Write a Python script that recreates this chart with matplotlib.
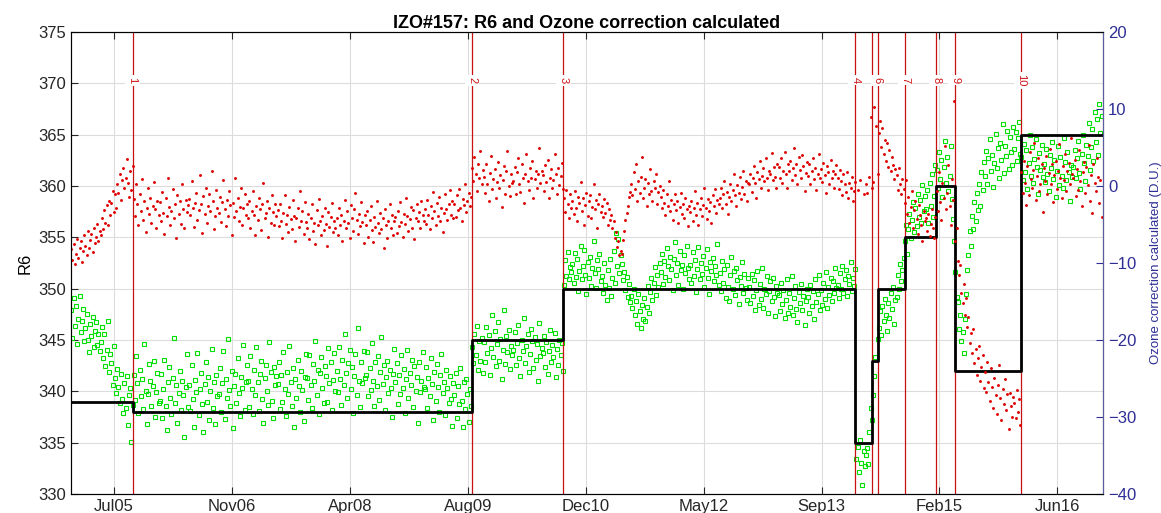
import numpy as np
import matplotlib
matplotlib.use('Agg')
import matplotlib.pyplot as plt
import matplotlib.dates as mdates

plt.rcParams['font.family'] = ['Liberation Sans', 'DejaVu Sans']

nan = np.nan

# observations are on a 5-day grid starting here
first_obs = '2005-01-06'
obs_step_days = 5

# R6 (left axis)
r6 = [
    347.9, 345.2, 349.1, 346.4, 348.3, 344.6, 347.0, 349.3, 345.8, 346.9, 348.0, 344.9, 346.2, 347.5, 345.0, 343.8, 346.6, 345.4, 347.2, 344.3, 345.9, 346.8, 344.5, 345.6, 343.9,
    344.8, 346.3, 343.2, 345.6, 342.5, 344.0, 346.9, 341.9, 343.6, 342.8, 340.6, 344.4, 341.3, 339.8, 342.2, 340.4, 338.9, 341.7, 339.3, 337.9, 340.8, 338.4, 341.5, 336.7, 339.6,
    340.3, 335.1, 338.7, 341.6, 339.2, 343.4, 340.8, 337.9, 342.1, 339.5, 341.2, 338.3, 344.6, 340.0, 336.8, 339.7, 342.7, 341.0, 338.6, 340.5, 343.0, 337.5, 339.9, 341.8, 338.9,
    339.1, 341.7, 337.4, 340.2, 343.1, 338.6, 336.2, 340.9, 342.4, 339.4, 337.8, 341.3, 345.2, 338.9, 340.6, 336.9, 339.8, 342.0, 338.2, 341.0, 339.6, 335.6, 340.4, 343.6, 338.5,
    340.6, 338.1, 342.6, 339.3, 336.5, 341.1, 339.9, 343.7, 337.7, 340.2, 341.8, 338.8, 336.0, 340.7, 342.9, 339.0, 341.4, 337.2, 340.0, 344.1, 338.4, 340.9, 336.8, 341.6, 339.5,
    339.7, 342.3, 338.0, 340.8, 343.9, 337.3, 341.2, 339.4, 345.1, 340.1, 338.6, 342.0, 336.4, 340.5, 341.7, 338.9, 343.2, 339.8, 337.6, 341.4, 340.3, 344.5, 338.2, 340.9, 342.6,
    341.0, 338.5, 343.4, 340.2, 337.8, 342.1, 339.6, 344.3, 340.9, 338.1, 341.7, 343.0, 339.3, 336.9, 341.3, 342.6, 340.0, 338.7, 344.8, 341.9, 339.1, 337.4, 342.4, 340.6, 341.5,
    340.7, 342.9, 338.3, 341.6, 339.0, 343.8, 340.2, 337.6, 341.9, 339.7, 344.4, 340.9, 338.6, 342.3, 336.5, 341.2, 339.4, 343.1, 340.5, 338.0, 342.0, 340.1, 337.1, 341.4, 343.6,
    341.3, 339.2, 343.5, 340.6, 338.4, 342.7, 341.0, 344.9, 339.6, 342.1, 337.8, 341.8, 343.3, 340.3, 338.9, 342.5, 341.5, 339.0, 344.2, 340.8, 342.9, 338.2, 341.1, 343.7, 340.0,
    342.0, 339.9, 344.3, 341.2, 338.7, 343.1, 340.6, 345.6, 341.8, 339.4, 342.8, 344.0, 340.2, 342.4, 337.9, 341.5, 343.6, 339.6, 346.2, 341.0, 338.5, 342.9, 340.8, 343.9, 341.3,
    341.6, 343.8, 339.5, 342.3, 340.1, 344.7, 341.0, 338.6, 342.9, 340.5, 343.4, 339.2, 341.9, 345.3, 340.7, 342.6, 338.2, 341.4, 343.0, 339.8, 342.1, 340.3, 337.5, 341.7, 344.1,
    340.9, 342.8, 338.8, 341.6, 339.7, 343.5, 340.3, 342.2, 337.9, 341.2, 344.0, 339.4, 341.8, 340.6, 343.1, 338.5, 342.5, 340.0, 341.4, 336.9, 342.9, 339.9, 341.0, 343.8, 340.4,
    340.2, 342.4, 338.4, 341.3, 339.5, 343.2, 340.7, 337.2, 341.9, 339.1, 342.7, 340.4, 338.0, 341.6, 343.6, 339.8, 340.9, 337.7, 342.1, 340.3, 338.9, 341.5, 339.3, 336.6, 340.8,
    339.6, 341.8, 337.4, 340.5, 338.8, 342.3, 339.1, 336.5, 340.9, 338.3, 341.2, 339.7, 337.0, 340.2, 338.6, 344.3, 342.8, 345.6, 343.5, 346.4, 342.1, 344.9, 343.0, 345.2, 341.8,
    344.8, 342.9, 346.3, 343.7, 345.5, 341.6, 344.2, 347.4, 343.3, 345.9, 342.5, 344.6, 346.8, 343.0, 345.1, 341.2, 344.0, 347.9, 342.7, 345.4, 343.8, 346.0, 342.2, 344.4, 343.5,
    344.0, 345.8, 342.6, 344.7, 346.5, 343.2, 341.5, 345.0, 343.9, 347.1, 342.8, 344.4, 345.6, 341.9, 343.6, 346.1, 344.9, 342.3, 345.3, 343.1, 344.6, 341.0, 346.7, 343.4, 344.2,
    343.7, 345.4, 342.4, 344.8, 341.7, 343.9, 346.0, 342.9, 344.5, 343.3, 345.7, 341.4, 344.1, 342.6, 345.0, 343.5, 344.7, 342.0, 350.4, 352.8, 351.2, 353.6, 350.9, 352.1, 351.6,
    352.4, 350.6, 353.5, 351.1, 352.9, 349.8, 351.7, 354.2, 350.9, 352.2, 353.8, 351.3, 349.5, 352.6, 351.0, 353.1, 350.3, 352.0, 354.6, 351.5, 350.1, 352.8, 351.9, 353.4, 350.7,
    351.2, 349.6, 352.5, 350.4, 348.9, 351.8, 350.1, 352.9, 349.3, 351.0, 353.7, 350.6, 355.4, 352.2, 354.8, 351.5, 353.3, 352.4, 350.8, 351.6, 349.9, 351.1, 349.2, 350.5, 348.7,
    349.3, 348.1, 350.0, 347.4, 348.8, 346.6, 349.5, 347.8, 346.2, 348.4, 347.0, 349.1, 346.9, 348.2, 350.3, 347.6, 349.7, 351.0, 348.9, 350.6, 352.1, 349.4, 351.3, 350.2, 352.5,
    351.6, 353.4, 350.5, 352.7, 351.1, 354.0, 352.2, 350.8, 353.1, 351.9, 349.9, 352.9, 354.5, 351.3, 352.5, 350.4, 353.7, 351.8, 352.3, 350.0, 353.3, 351.5, 354.2, 352.0, 350.9,
    352.3, 350.6, 353.6, 351.2, 352.8, 349.7, 351.9, 354.1, 350.9, 352.5, 351.4, 353.2, 350.2, 352.0, 353.9, 351.0, 349.5, 352.6, 351.7, 353.0, 350.7, 352.2, 351.3, 354.4, 350.4,
    351.5, 349.8, 352.7, 350.6, 351.9, 349.1, 352.3, 350.2, 348.8, 351.3, 353.1, 350.0, 351.7, 349.4, 352.0, 350.8, 348.5, 351.1, 350.3, 352.6, 349.6, 351.4, 350.1, 348.9, 351.0,
    350.2, 348.6, 351.4, 349.3, 350.8, 347.9, 349.9, 351.7, 348.4, 350.5, 349.0, 352.0, 348.1, 350.0, 349.5, 351.2, 347.6, 349.8, 350.7, 348.8, 351.0, 349.2, 347.3, 350.3, 349.6,
    349.4, 347.8, 350.6, 348.5, 349.9, 347.1, 348.9, 350.9, 347.6, 349.6, 348.2, 351.2, 347.4, 349.1, 350.3, 348.0, 346.8, 349.7, 348.6, 350.5, 347.9, 349.3, 346.5, 348.8, 350.0,
    349.2, 347.6, 350.4, 348.3, 349.8, 347.0, 350.9, 348.7, 349.5, 351.3, 347.9, 349.9, 348.4, 350.6, 349.0, 351.6, 348.1, 350.2, 349.4, 351.0, 348.8, 350.7, 349.6, 352.0, 350.1,
    350.4, 349.1, 351.5, 350.0, 352.2, 349.6, 350.9, 351.8, 349.3, 351.2, 350.5, 352.6, 349.8, 351.0, 350.3, 351.9, 333.4, 334.6, 332.1, 335.3, 333.0, 330.9, 334.2, 332.7, 333.8,
    334.5, 332.9, 336.0, 338.4, 337.2, 339.6, 341.5, 343.3, 370.4, 345.1, 346.2, 347.8, 345.5, 348.3, 346.9, 349.0, 347.4, 345.9, 348.6, 347.1, 349.6, 348.0, 350.2, 346.6, 348.9,
    349.2, 351.3, 350.0, 352.4, 350.7, 351.8, 353.0, 354.6, 356.2, 353.4, 355.8, 357.3, 354.9, 356.7, 358.4, 355.5, 357.9, 356.1, 359.2, 357.0, 358.6, 356.4, 360.1, 357.6, 359.0,
    357.8, 359.6, 356.4, 360.3, 358.1, 361.2, 357.0, 359.0, 362.0, 361.6, 359.8, 363.3, 360.7, 362.5, 358.9, 361.9, 364.4, 360.3, 362.8, 359.5, 361.0, 363.9, 358.7, 356.8, 354.6,
    351.6, 349.2, 348.7, 346.1, 347.4, 344.9, 345.8, 343.7, 347.0, 349.5, 351.8, 353.3, 355.6, 354.2, 357.1, 355.8, 358.4, 356.6, 359.3, 357.7, 360.2, 358.1, 361.4, 359.6, 362.3,
    361.0, 363.4, 360.2, 362.7, 364.6, 361.5, 363.0, 359.9, 362.2, 365.1, 361.8, 363.7, 360.8, 364.2, 362.5, 366.0, 361.3, 363.9, 362.9, 365.4, 361.7, 364.8, 363.3, 362.0, 365.7,
    363.6, 365.3, 362.4, 364.7, 366.2, 363.1, 362.8, 360.6, 364.1, 361.4, 363.5, 359.7, 362.2, 365.0, 361.0, 363.8, 360.3, 362.6, 364.6, 361.9, 359.2, 363.2, 361.6, 364.0, 360.9,
    362.1, 360.4, 363.6, 361.2, 359.5, 363.0, 361.8, 364.3, 360.7, 362.5, 358.9, 361.5, 363.9, 360.1, 362.8, 361.0, 359.8, 364.7, 362.3, 360.6, 363.3, 361.4, 358.5, 362.0, 360.9,
    361.9, 363.5, 360.8, 362.7, 364.4, 361.3, 359.7, 363.1, 365.0, 362.2, 360.5, 364.0, 362.9, 366.1, 361.6, 363.8, 365.6, 362.4, 367.2, 364.3, 366.5, 363.0, 368.0, 365.2, 366.8,
]

# calculated ozone correction in D.U. (right axis)
o3_corr = [
    -8.2, -9.6, -7.5, -10.1, -8.8, -6.9, -9.3, -8.0, -7.2, -9.9, -8.5, -6.4, -7.8, -9.0, -5.9, -8.1, -7.0, -6.2, -8.6, -5.5, -7.4, -6.6, -4.9, -7.1, -5.8,
    -6.3, -4.2, -5.6, -3.1, -4.8, -2.5, -5.0, -1.9, -3.7, -2.2, -0.6, -3.4, -1.1, -2.8, 0.3, -0.9, 1.6, -1.8, 0.8, 2.4, -0.2, 1.1, 3.5, 0.4, -1.4,
    1.9, -0.5, 2.6, -1.7, -3.9, 0.2, -2.4, -5.1, -1.0, -3.2, 0.9, -4.4, -2.0, -6.0, -2.9, -0.3, -3.6, -1.5, -4.8, -2.6, 0.5, -3.0, -5.4, -1.9, -3.8,
    -2.1, -4.6, -0.8, -3.5, -6.2, -1.6, -3.9, 1.1, -2.7, -5.0, -3.2, -0.4, -4.1, -2.3, -6.8, -1.2, -3.6, -2.0, -4.9, 0.2, -3.0, -5.5, -1.8, -3.4, -2.5,
    -1.7, -3.8, 0.6, -2.9, -5.3, -2.2, -0.9, -4.4, -3.1, 1.4, -2.4, -6.1, -1.3, -3.6, -0.2, -4.8, -2.6, -1.0, -3.3, 2.0, -2.0, -5.6, -3.9, -0.5, -2.8,
    -3.5, -1.4, -4.7, -2.1, 0.8, -3.0, -5.2, -1.8, -3.9, -0.6, -2.5, -6.4, -2.2, -4.0, 1.0, -3.3, -1.6, -4.5, -2.7, -0.3, -5.0, -2.9, -1.1, -3.7, -2.4,
    -4.1, -2.0, -5.5, -3.2, -0.7, -3.8, -6.3, -2.6, -4.4, -1.5, -3.0, -5.7, -2.4, 0.4, -4.2, -3.5, -1.9, -6.6, -2.8, -4.8, -1.2, -3.4, -5.1, -2.3, -3.9,
    -3.1, -5.2, -2.4, -4.6, -6.8, -3.5, -1.2, -4.9, -3.8, -6.0, -2.7, -4.3, -5.6, -1.8, -3.9, -7.2, -4.1, -2.9, -5.3, -0.6, -4.5, -3.3, -6.2, -2.1, -4.7,
    -5.4, -3.6, -6.9, -4.2, -2.3, -5.8, -4.8, -7.5, -3.1, -5.1, -1.7, -4.5, -6.4, -3.9, -5.7, -2.8, -4.9, -7.8, -3.4, -5.3, -4.0, -2.2, -6.0, -4.6, -5.5,
    -4.1, -6.3, -2.9, -5.0, -3.7, -7.1, -4.6, -1.8, -5.5, -3.3, -4.8, -6.7, -2.5, -4.2, -5.9, -3.0, -0.9, -4.4, -6.2, -3.6, -5.2, -2.1, -4.7, -7.4, -3.8,
    -5.1, -3.2, -6.6, -4.4, -2.6, -5.7, -7.3, -4.0, -5.3, -2.0, -4.8, -6.1, -3.5, -5.6, -4.2, -8.0, -3.0, -5.0, -6.8, -4.5, -2.3, -5.4, -3.8, -6.3, -4.6,
    -4.0, -6.1, -3.3, -5.2, -2.1, -4.7, -6.6, -3.6, -4.9, -1.5, -3.9, -5.8, -4.3, -2.7, -5.4, -3.1, -6.9, -4.1, -2.4, -4.6, -3.4, -5.5, -1.9, -3.8, -4.5,
    -3.0, -4.9, -1.8, -3.7, -5.6, -2.6, -4.2, -0.8, -3.3, -5.1, -2.2, -3.9, -1.4, -4.6, -2.9, -6.0, -3.5, -1.1, -3.0, -4.4, -2.4, -0.5, -3.8, -2.0, -4.1,
    -2.3, -4.0, -1.2, -3.1, -0.4, -2.8, -4.6, -1.7, -2.5, 0.3, -3.4, -1.9, -0.9, -2.6, -1.4, 2.4, 0.6, 3.8, 1.5, -0.7, 2.9, 1.0, 4.6, 0.2, 2.1,
    1.2, -0.9, 2.8, 0.3, -2.0, 1.7, 3.9, -0.4, 0.9, 2.2, -1.6, 0.5, 3.1, -0.2, 1.4, -2.7, 0.8, 2.6, -1.0, 1.9, 4.5, 0.0, -1.3, 1.6, 0.4,
    0.6, 2.5, -1.1, 1.8, 3.6, 0.2, -0.8, 2.9, 1.1, -2.2, 1.5, 4.1, 0.7, -0.5, 2.3, 1.0, 3.3, -1.6, 0.9, 2.0, -0.3, 1.6, 5.0, 0.4, 1.9,
    1.4, -0.6, 2.7, 0.5, 3.4, -1.5, 1.1, 2.2, -0.2, 0.8, 4.2, 1.6, -1.0, 2.4, 0.1, 1.3, 3.0, -0.4, -1.6, -3.4, -0.5, -2.3, -4.2, -1.1, -2.8,
    -1.9, -3.6, -0.7, -2.8, -4.5, -1.4, -2.2, 0.5, -3.3, -1.6, -5.0, -2.5, -0.9, -3.9, -2.0, -1.2, -4.1, -2.7, 0.2, -3.0, -1.8, -5.4, -2.4, -1.0, -3.4,
    -2.6, -4.0, -1.7, -3.5, -2.2, -5.1, -3.0, -4.4, -3.8, -5.5, -4.6, -6.8, -6.0, -7.9, -7.2, -9.0, -8.4, -8.8, -7.0, -5.9, -4.4, -3.5, -2.6, -1.4, -0.8,
    0.3, -1.2, 1.8, -0.4, 2.9, -2.0, 0.7, -0.9, 1.2, 3.8, -1.6, -0.2, 0.9, -2.6, 0.4, -1.0, 2.2, -0.6, -1.9, 0.6, -0.3, 1.5, -2.3, -0.8, 0.0,
    -1.4, -2.9, -0.5, -2.2, -3.8, -1.1, -2.6, 0.6, -3.3, -1.8, -4.4, -2.4, -1.0, -3.1, -2.0, -4.8, -2.7, -0.9, -3.6, -2.3, -4.1, -1.5, -3.0, -5.2, -2.6,
    -3.4, -1.9, -4.6, -2.8, -0.7, -3.7, -2.2, -5.0, -3.0, -1.5, -3.9, -2.5, -0.3, -2.9, -4.3, -1.7, -3.2, -2.1, -4.8, -1.2, -2.6, -0.4, -3.5, -1.8, -2.4,
    -1.6, -0.2, -2.9, -1.1, 0.7, -2.3, -0.8, -3.6, -1.4, 0.3, -1.9, -0.5, 1.6, -1.2, -2.6, 0.1, -0.9, 1.2, -1.7, -0.1, 2.0, -1.0, 0.6, -2.0, 0.4,
    0.2, 1.5, -0.8, 1.0, 2.6, 0.4, -1.5, 1.8, 0.9, 3.2, -0.3, 1.3, 2.4, 0.6, 3.7, 1.1, -0.5, 2.0, 1.6, 4.3, 0.8, 2.5, 1.2, -0.2, 2.9,
    2.5, 1.1, 3.6, 0.4, 2.0, 4.4, 1.5, -0.3, 2.8, 1.9, 3.3, 0.8, 2.4, 5.0, 1.4, 2.9, 0.2, 3.8, 2.1, 1.0, 4.0, 2.6, -0.6, 1.7, 3.1,
    1.3, 2.8, 0.2, 1.9, 3.7, 0.9, 2.4, -0.5, 1.6, 4.1, 1.0, 2.2, 0.5, 3.0, 1.4, -0.9, 2.6, 1.8, 0.3, 3.4, 1.1, 2.0, -0.2, 1.5, 2.7,
    1.0, -0.4, 2.1, 0.6, -1.2, 1.5, 0.2, -0.8, 1.8, -1.6, 0.4, -0.3, 1.2, -1.9, -0.6, 0.5, nan, -0.5, nan, 0.8, nan, nan, -1.1, nan, 0.3,
    -0.9, nan, 1.2, 9.0, -0.3, 0.5, 10.2, nan, 7.8, 1.6, 6.9, 8.4, 5.1, 7.5, 4.2, 6.0, 3.3, 5.6, 2.5, 4.7, 1.9, 3.8, 2.7, 0.9, 2.2,
    1.4, -0.5, 2.3, 0.2, -1.1, 0.9, -0.4, -2.2, 0.8, -3.6, -1.4, -4.8, -2.7, -0.6, -5.5, -3.1, -1.9, -4.3, -6.2, -2.5, -3.8, -5.0, -7.1, -3.3, -4.6,
    -4.2, -5.9, -3.6, -6.5, -4.9, -3.0, -5.4, -6.8, -4.0, -0.6, -3.2, 1.8, -2.1, -4.4, 0.4, -1.5, 5.2, -3.0, -0.9, 2.7, -2.6, -5.1, 0.9, -1.8, 11.0,
    -7.2, -5.4, -9.8, -11.6, -10.3, -13.9, -15.2, -12.7, -16.8, -14.5, -18.3, -17.0, -20.4, -19.1, -21.7, -18.6, -23.0, -21.2, -24.6, -22.4, -20.8, -25.3, -23.5, -21.9, -26.2,
    -24.1, -26.7, -22.8, -25.5, -27.9, -23.6, -26.1, -28.8, -24.9, -27.2, -29.6, -25.8, -23.3, -27.5, -30.4, -26.4, -28.3, -25.0, -29.1, -27.0, -31.5, -26.9, -28.6, -30.0, -27.4,
    -28.2, -30.1, -26.5, -29.4, -27.6, -31.0, 1.8, -0.9, 3.2, 0.4, -2.5, 2.6, -1.2, 4.4, 0.9, -0.3, 2.1, 5.6, -1.8, 1.3, 3.7, -0.6, 0.2, 2.9, -3.4,
    2.4, 0.6, 3.9, -1.0, 1.7, 4.8, 0.2, 2.9, -2.1, 1.4, 3.3, -0.4, 2.0, 5.4, 1.1, -1.5, 2.6, 0.8, 4.1, -0.7, 1.9, 3.0, 0.3, 6.2, 1.5,
    1.0, 3.4, -1.3, 2.2, -0.5, 4.7, 0.6, -2.6, 1.8, 3.1, -0.9, 2.5, 0.1, 5.3, -1.9, 1.4, -3.5, 2.8, 0.4, -0.7, 3.6, 1.2, -2.2, 0.8, -4.0,
]

# calibration events and the R6 reference in force from each one
event_dates = ['2005-09-23', '2009-09-02', '2010-09-24', '2014-02-13', '2014-04-25',
               '2014-05-19', '2014-09-12', '2015-01-22', '2015-04-14', '2016-01-17']
# event 5 sits right next to 6, its tag is not printed
event_labels = ['1', '2', '3', '4', '', '6', '7', '8', '9', '10']
r6_ref = [339, 338, 345, 350, 335, 343, 350, 355, 360, 342, 365]

x_start, x_end = '2005-01-05', '2016-12-30'
tick_dates = ['2005-07-07', '2006-11-19', '2008-04-02', '2009-08-15', '2010-12-28',
              '2012-05-11', '2013-09-23', '2015-02-05', '2016-06-19']

blue = '#2e2e96'


def obs_dates(n):
    return np.datetime64(first_obs) + obs_step_days * np.arange(n)


fig = plt.figure(figsize=(11.61, 5.13), dpi=100)
ax = fig.add_axes([0.0612, 0.037, 0.8889, 0.9006])
ax2 = ax.twinx()

ax.plot(obs_dates(len(r6)), r6, ls='none', marker='s', ms=3.4,
        mfc='none', mec='#00e000', mew=0.8, zorder=2)

step_x = np.array([x_start] + event_dates + [x_end], dtype='datetime64[D]')
step_y = r6_ref + [r6_ref[-1]]
ax.step(step_x, step_y, where='post', color='black', lw=2, zorder=4)

for d, lab in zip(event_dates, event_labels):
    d = np.datetime64(d)
    ax.axvline(d, color='#c81010', lw=0.9, zorder=3)
    if lab:
        ax.text(d, 370.3, lab, rotation=270, color='#d01010', fontsize=8,
                ha='center', va='center', zorder=5,
                bbox=dict(fc='white', ec='none', pad=1.5))

ax2.plot(obs_dates(len(o3_corr)), o3_corr, ls='none', marker='.', ms=4.2,
         color='#e00000', mew=0)

ax.set_xlim(np.datetime64(x_start), np.datetime64(x_end))
ax.set_ylim(330, 375)
ax.set_yticks(np.arange(330, 376, 5))
ax.set_xticks(np.array(tick_dates, dtype='datetime64[D]'))
ax.xaxis.set_major_formatter(mdates.DateFormatter('%b%y'))
ax.grid(True, color='#dcdcdc', lw=0.8)
ax.set_axisbelow(True)
ax.tick_params(direction='in', length=5, labelsize=12, top=True, colors='#262626')
ax.set_ylabel('R6', fontsize=12)

ax2.set_ylim(-40, 20)
ax2.set_yticks(np.arange(-40, 21, 10))
ax2.tick_params(direction='in', length=5, labelsize=12, colors=blue)
ax2.set_ylabel('Ozone correction calculated (D.U.)', color=blue, fontsize=9.5,
               labelpad=10)
ax2.spines['right'].set_color('#5c5ca0')
for s in ['left', 'top', 'bottom']:
    ax.spines[s].set_color('#262626')

ax.set_title('IZO#157: R6 and Ozone correction calculated', fontsize=13,
             fontweight='bold', pad=3)

fig.savefig('out.png', dpi=100)
